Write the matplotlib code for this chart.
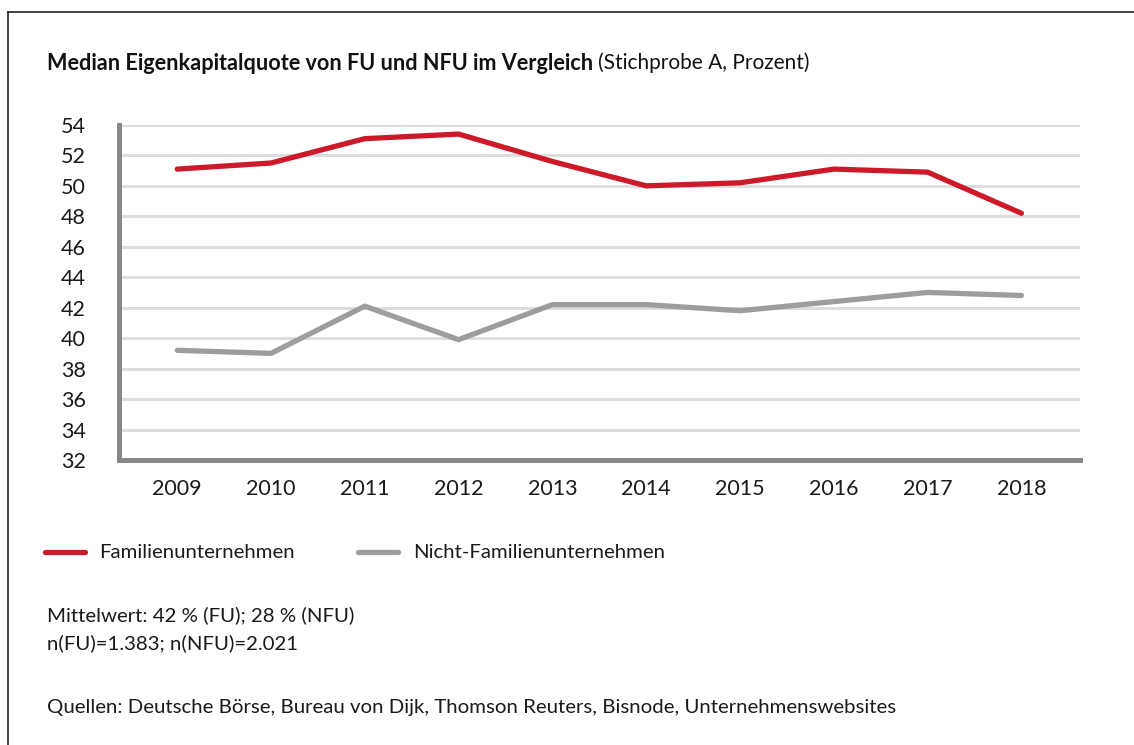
import matplotlib
matplotlib.use("Agg")
import matplotlib.pyplot as plt
from matplotlib.lines import Line2D

plt.rcParams['font.family'] = ['Lato', 'DejaVu Sans']

years = ["2009", "2010", "2011", "2012", "2013", "2014", "2015", "2016", "2017", "2018"]
fu = [51.1, 51.5, 53.1, 53.4, 51.6, 50.0, 50.2, 51.1, 50.9, 48.2]
nfu = [39.2, 39.0, 42.1, 39.9, 42.2, 42.2, 41.8, 42.4, 43.0, 42.8]
yticks = list(range(32, 55, 2))

red = "#cc1a2b"
grey = "#9d9d9b"
spine_col = "#888888"
fs = 14.7

fig = plt.figure(figsize=(11.34, 7.45), dpi=100)
ax = fig.add_axes([0.105, 0.3826, 0.847, 0.4497])

x = list(range(len(years)))
ax.plot(x, fu, color=red, lw=3.8, solid_capstyle="round", solid_joinstyle="round", zorder=3)
ax.plot(x, nfu, color=grey, lw=3.8, solid_capstyle="round", solid_joinstyle="round", zorder=3)

ax.set_xlim(-0.62, 9.62)
ax.set_ylim(32, 54)
ax.set_yticks(yticks)
ax.set_xticks(x)
ax.set_xticklabels(years)
ax.tick_params(axis="both", length=0, labelsize=15.5, colors="#1a1a1a")
ax.tick_params(axis="y", pad=24)
ax.tick_params(axis="x", pad=14)
ax.grid(axis="y", color="#dddddd", lw=2.2, zorder=1)
ax.set_axisbelow(True)
for s in ["top", "right"]:
    ax.spines[s].set_visible(False)
for s in ["left", "bottom"]:
    ax.spines[s].set_color(spine_col)
    ax.spines[s].set_linewidth(3.6)

# frame lines (left + top)
fig.add_artist(Line2D([8 / 1134, 8 / 1134], [0, 1 - 12 / 745], color="#222222", lw=1.2))
fig.add_artist(Line2D([8 / 1134, 1], [1 - 12 / 745, 1 - 12 / 745], color="#222222", lw=1.2))

# title: bold part + regular part
fig.canvas.draw()
r = fig.canvas.get_renderer()
t1 = fig.text(47 / 1134, 1 - 63 / 745, "Median Eigenkapitalquote von FU und NFU im Vergleich",
              fontsize=15.6, fontweight="bold", va="center", ha="left", color="#111111")
bb = t1.get_window_extent(renderer=r)
fig.text(bb.x1 / 1134 + 5 / 1134, 1 - 63 / 745, "(Stichprobe A, Prozent)",
         fontsize=15, va="center", ha="left", color="#111111")

# legend
ly = 1 - 552 / 745
fig.add_artist(Line2D([45 / 1134, 85 / 1134], [ly, ly], color=red, lw=3.8, solid_capstyle="round"))
fig.text(99 / 1134, ly, "Familienunternehmen", fontsize=fs, va="center", ha="left", color="#1a1a1a")
fig.add_artist(Line2D([358 / 1134, 398 / 1134], [ly, ly], color=grey, lw=3.8, solid_capstyle="round"))
fig.text(413 / 1134, ly, "Nicht-Familienunternehmen", fontsize=fs, va="center", ha="left", color="#1a1a1a")

# notes
fig.text(47 / 1134, 1 - 615 / 745, "Mittelwert: 42 % (FU); 28 % (NFU)", fontsize=fs, va="center", color="#1a1a1a")
fig.text(47 / 1134, 1 - 643 / 745, "n(FU)=1.383; n(NFU)=2.021", fontsize=fs, va="center", color="#1a1a1a")
fig.text(47 / 1134, 1 - 707 / 745,
         "Quellen: Deutsche Börse, Bureau von Dijk, Thomson Reuters, Bisnode, Unternehmenswebsites",
         fontsize=fs, va="center", color="#1a1a1a")

fig.savefig("out.png", dpi=100, facecolor="white")
